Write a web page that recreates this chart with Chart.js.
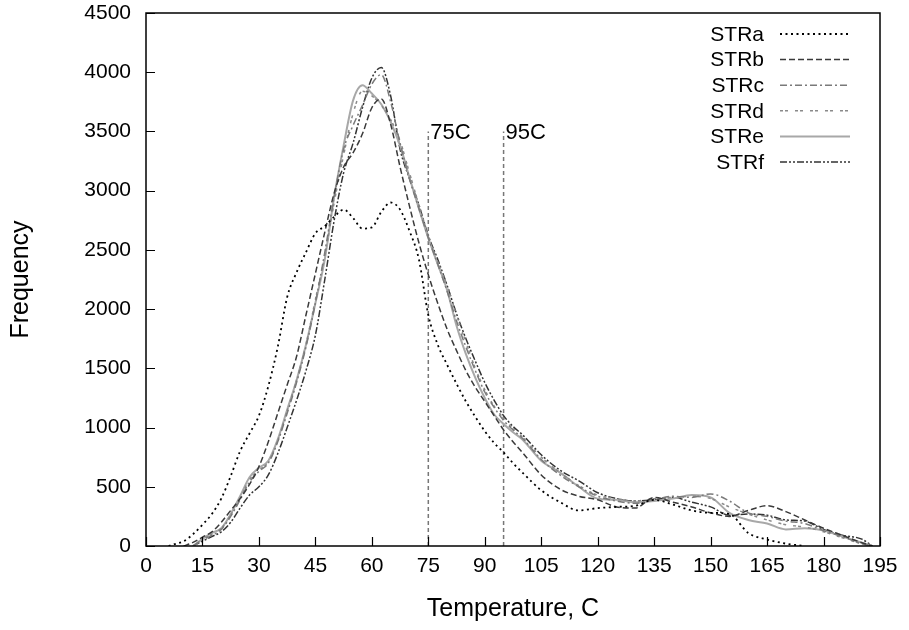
<!DOCTYPE html>
<html><head><meta charset="utf-8">
<script src="https://cdn.jsdelivr.net/npm/chart.js@4/dist/chart.umd.min.js"></script>
<style>html,body{margin:0;padding:0;background:#fff}#wrap{width:909px;height:630px}</style>
</head><body><div id="wrap"><canvas id="c" width="909" height="630"></canvas></div>
<script>
const temps = [6,7.5,10,12.5,15,17.5,20,22.5,25,27.5,30,32.5,35,37.5,40,42.5,45,47.5,50,52.5,55,57.5,60,62.5,65,67.5,70,72.5,75,77.5,80,82.5,85,87.5,90,92.5,95,97.5,100,105,110,115,120,125,130,135,140,145,150,155,160,165,170,175,180,185,190,193];
const STRa = [0,15,40,100,180,270,400,590,800,950,1100,1350,1680,2100,2310,2480,2640,2700,2780,2840,2770,2680,2690,2820,2900,2840,2660,2420,1950,1700,1530,1370,1220,1090,970,870,790,700,620,470,370,300,320,330,340,390,350,300,280,270,110,55,20,0,null,null,null,null];
const STRb = [null,null,0,30,75,120,200,300,400,520,670,880,1120,1360,1600,1950,2300,2650,2980,3200,3320,3480,3700,3775,3560,3200,2870,2560,2290,2050,1830,1650,1480,1340,1220,1100,980,880,790,600,480,420,390,330,320,410,370,330,280,250,300,340,290,220,150,90,30,0];
const STRc = [null,null,null,0,50,90,140,250,390,540,630,700,880,1120,1380,1680,2050,2480,2950,3350,3550,3720,3900,3980,3750,3400,3100,2850,2600,2380,2150,1900,1680,1480,1300,1170,1060,980,910,730,600,500,420,380,360,390,420,410,440,380,280,250,210,190,130,80,20,0];
const STRd = [null,null,null,0,55,100,150,260,400,560,640,710,890,1140,1400,1700,2080,2450,2900,3300,3650,3840,3800,3720,3600,3420,3150,2880,2620,2400,2200,1950,1720,1500,1320,1180,1080,990,920,750,620,510,430,400,380,400,410,420,400,330,270,220,180,160,120,70,20,0];
const STRe = [null,null,null,0,60,110,150,270,420,580,660,720,900,1150,1400,1700,2050,2420,2950,3380,3760,3890,3820,3730,3580,3380,3110,2850,2600,2380,2160,1860,1620,1420,1250,1110,1030,960,900,720,620,500,400,390,370,380,400,430,410,280,220,190,140,150,130,80,30,0];
const STRf = [null,null,null,0,40,80,120,200,320,430,500,600,780,1000,1230,1480,1780,2250,2750,3150,3400,3700,3950,4040,3800,3350,3100,2880,2620,2420,2200,1960,1750,1560,1380,1230,1100,1010,940,770,640,550,450,400,380,390,410,370,330,260,270,260,220,210,140,90,60,0];
const seriesNames = ['STRa','STRb','STRc','STRd','STRe','STRf'];
const seriesValues = [STRa,STRb,STRc,STRd,STRe,STRf];
const markerTemps = [75,95];
const markerLabels = ['75C','95C'];
const markerTop = 3500;
const xMin = 0, xMax = 195, xStep = 15;
const yMin = 0, yMax = 4500, yStep = 500;

const styles = [
  {color:'#000000', width:1.8, dash:[2,3.5]},
  {color:'#3a3a3a', width:1.5, dash:[6,3]},
  {color:'#7a7a7a', width:1.5, dash:[7,3,2,3]},
  {color:'#8a8a8a', width:1.5, dash:[3,2,3,7]},
  {color:'#a8a8a8', width:2, dash:[]},
  {color:'#333333', width:1.5, dash:[7,2,2,2,2,2]}
];
const FONT = "'Liberation Sans', Arial, Helvetica, sans-serif";

const datasets = seriesNames.map((n,i)=>({
  label:n,
  data: temps.map((t,j)=>({x:t,y:seriesValues[i][j]})),
  borderColor: styles[i].color,
  borderWidth: styles[i].width,
  borderDash: styles[i].dash,
  pointRadius:0,
  fill:false,
  cubicInterpolationMode:'monotone',
  spanGaps:false,
  isSeries:true
}));
markerTemps.forEach((t,i)=>{
  datasets.push({
    label: markerLabels[i],
    data:[{x:t,y:0},{x:t,y:markerTop}],
    borderColor:'#777777',
    borderWidth:1.5,
    borderDash:[4,3],
    pointRadius:0,
    fill:false,
    isSeries:false
  });
});

const decor = {
  id:'decor',
  afterDatasetsDraw(chart){
    const ctx = chart.ctx;
    const a = chart.chartArea;
    const xs = chart.scales.x, ys = chart.scales.y;
    ctx.save();
    ctx.strokeStyle = '#000'; ctx.lineWidth = 1.5; ctx.setLineDash([]);
    ctx.strokeRect(a.left, a.top, a.right - a.left, a.bottom - a.top);
    ctx.lineWidth = 1.2;
    ctx.beginPath();
    ys.ticks.forEach(t=>{ const y = Math.round(ys.getPixelForValue(t.value))+0.5; ctx.moveTo(a.left, y); ctx.lineTo(a.left+9, y); });
    xs.ticks.forEach(t=>{ const x = Math.round(xs.getPixelForValue(t.value))+0.5; ctx.moveTo(x, a.bottom); ctx.lineTo(x, a.bottom-9); });
    ctx.stroke();
    ctx.fillStyle = '#000';
    ctx.font = '22px ' + FONT;
    ctx.textAlign = 'left'; ctx.textBaseline = 'middle';
    markerTemps.forEach((t,i)=>{
      ctx.fillText(markerLabels[i], xs.getPixelForValue(t)+2, ys.getPixelForValue(markerTop)+1);
    });
    const textRight = 764, lineL = 780, lineR = 850, row0 = 35, rowH = 25.6;
    ctx.font = '21px ' + FONT;
    chart.data.datasets.forEach((ds,i)=>{
      if(!ds.isSeries) return;
      const y = row0 + i*rowH;
      ctx.textAlign = 'right'; ctx.textBaseline = 'middle';
      ctx.fillStyle = '#000';
      ctx.fillText(ds.label, textRight, y);
      ctx.strokeStyle = ds.borderColor; ctx.lineWidth = ds.borderWidth;
      ctx.setLineDash(ds.borderDash);
      ctx.beginPath(); ctx.moveTo(lineL, y-1); ctx.lineTo(lineR, y-1); ctx.stroke();
    });
    ctx.restore();
  }
};

new Chart(document.getElementById('c'), {
  type:'line',
  data:{datasets},
  options:{
    responsive:false,
    devicePixelRatio:1,
    animation:false,
    layout:{padding:{top:13,right:29,left:0,bottom:0}},
    plugins:{legend:{display:false},tooltip:{enabled:false}},
    scales:{
      x:{
        type:'linear', min:xMin, max:xMax,
        ticks:{stepSize:xStep, color:'#000', font:{family:FONT,size:21}, padding:8, maxRotation:0, autoSkip:false, callback:v=>String(v)},
        grid:{display:false, drawTicks:false},
        border:{display:false},
        title:{display:true, text:'Temperature, C', color:'#000', font:{family:FONT,size:25}, padding:{top:0,bottom:6}},
        afterFit(s){ s.height = 84; s.paddingLeft = 0; s.paddingRight = 0; }
      },
      y:{
        type:'linear', min:yMin, max:yMax,
        ticks:{stepSize:yStep, color:'#000', font:{family:FONT,size:21}, padding:15, callback:v=>String(v)},
        grid:{display:false, drawTicks:false},
        border:{display:false},
        title:{display:true, text:'Frequency', color:'#000', font:{family:FONT,size:25}, padding:{top:6,bottom:0}},
        afterFit(s){ s.width = 146; s.paddingTop = 0; s.paddingBottom = 0; }
      }
    }
  },
  plugins:[decor]
});
</script></body></html>
